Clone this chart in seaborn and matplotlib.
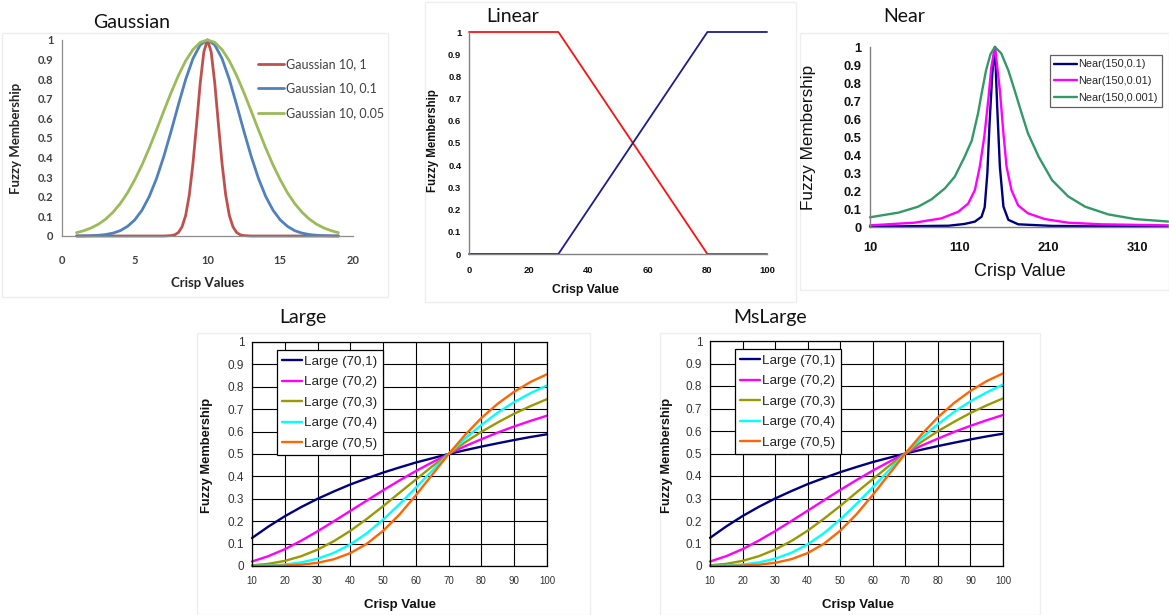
import numpy as np
import pandas as pd
import matplotlib
matplotlib.use("Agg")
import matplotlib.pyplot as plt
import seaborn as sns
from matplotlib.patches import Rectangle

# ---------------- data ----------------
Y_TICKS = [0, 0.1, 0.2, 0.3, 0.4, 0.5, 0.6, 0.7, 0.8, 0.9, 1.0]
Y_TICK_LABELS = ["0", "0.1", "0.2", "0.3", "0.4", "0.5", "0.6", "0.7", "0.8", "0.9", "1"]

# Gaussian panel
gauss_x = np.arange(1, 19.5, 0.5)
gauss_red_x = [1, 7, 7.5, 7.75, 8, 8.25, 8.5, 8.75, 9, 9.25, 9.5, 9.75, 10,
               10.25, 10.5, 10.75, 11, 11.25, 11.5, 11.75, 12, 12.25, 12.5, 13, 19]
gauss_red_y = [0, 0, 0.002, 0.006, 0.018, 0.047, 0.105, 0.21, 0.37, 0.57, 0.78, 0.94, 1.0,
               0.94, 0.78, 0.57, 0.37, 0.21, 0.105, 0.047, 0.018, 0.006, 0.002, 0, 0]
gauss_blue_y = [0.0003, 0.0007, 0.0017, 0.0036, 0.0074, 0.0146, 0.027, 0.049, 0.082, 0.132,
                0.202, 0.294, 0.407, 0.535, 0.670, 0.799, 0.905, 0.975, 1.0, 0.975, 0.905,
                0.799, 0.670, 0.535, 0.407, 0.294, 0.202, 0.132, 0.082, 0.049, 0.027, 0.0146,
                0.0074, 0.0036, 0.0017, 0.0007, 0.0003]
gauss_green_y = [0.017, 0.027, 0.041, 0.060, 0.086, 0.121, 0.165, 0.220, 0.287, 0.363, 0.449,
                 0.542, 0.638, 0.732, 0.819, 0.894, 0.951, 0.988, 1.0, 0.988, 0.951, 0.894,
                 0.819, 0.732, 0.638, 0.542, 0.449, 0.363, 0.287, 0.220, 0.165, 0.121, 0.086,
                 0.060, 0.041, 0.027, 0.017]
gauss_labels = ["Gaussian 10, 1", "Gaussian 10, 0.1", "Gaussian 10, 0.05"]
gauss_xticks = [0, 5, 10, 15, 20]

# Linear panel
lin_x = [0, 30, 80, 100]
lin_dec = [1, 1, 0, 0]
lin_inc = [0, 0, 1, 1]
lin_xticks = [0, 20, 40, 60, 80, 100]

# Near panel
near_g_x = [10, 42, 64, 79, 94, 105, 116, 124, 131, 135, 140, 145, 150, 157, 165, 172, 180,
            187, 199, 214, 232, 251, 277, 307, 345]
near_g_y = [0.054, 0.080, 0.113, 0.154, 0.215, 0.28, 0.39, 0.48, 0.63, 0.74, 0.87, 0.96, 1.0,
            0.965, 0.87, 0.76, 0.63, 0.52, 0.39, 0.26, 0.17, 0.113, 0.07, 0.044, 0.03]
near_p_x = [10, 60, 90, 109, 120, 127.5, 133, 138, 142.5, 146, 150, 155.5, 159.5, 163, 168.5,
            176, 187, 206, 232, 269, 345]
near_p_y = [0.009, 0.024, 0.048, 0.085, 0.13, 0.205, 0.335, 0.50, 0.705, 0.89, 1.0, 0.76, 0.52,
            0.335, 0.205, 0.12, 0.076, 0.044, 0.024, 0.015, 0.009]
near_n_x = [10, 98, 116, 127.5, 135, 138.5, 141.5, 144, 147, 149, 150, 152.5, 155.5, 159.5,
            165, 176, 214, 345]
near_n_y = [0.002, 0.007, 0.017, 0.03, 0.057, 0.11, 0.30, 0.58, 0.85, 0.965, 1.0, 0.67, 0.335,
            0.113, 0.04, 0.015, 0.006, 0.002]
near_labels = ["Near(150,0.1)", "Near(150,0.01)", "Near(150,0.001)"]
near_xticks = [10, 110, 210, 310]

# Large / MsLarge panels
large_x = [10, 15, 20, 25, 30, 35, 40, 45, 50, 55, 60, 65, 70, 75, 80, 85, 90, 95, 100]
large_1 = [0.125, 0.176, 0.222, 0.263, 0.300, 0.333, 0.364, 0.391, 0.417, 0.440, 0.462, 0.481,
           0.5, 0.517, 0.533, 0.548, 0.5625, 0.576, 0.588]
large_2 = [0.020, 0.044, 0.075, 0.113, 0.155, 0.200, 0.246, 0.292, 0.338, 0.382, 0.424, 0.463,
           0.5, 0.535, 0.566, 0.596, 0.623, 0.648, 0.671]
large_3 = [0.0029, 0.0097, 0.0228, 0.0436, 0.073, 0.111, 0.157, 0.210, 0.267, 0.327, 0.386,
           0.445, 0.5, 0.552, 0.599, 0.641, 0.680, 0.714, 0.745]
large_4 = [0.0004, 0.0021, 0.0066, 0.016, 0.0326, 0.0588, 0.0963, 0.146, 0.207, 0.276, 0.350,
           0.426, 0.5, 0.569, 0.630, 0.685, 0.732, 0.772, 0.806]
large_5 = [0.0001, 0.0005, 0.0019, 0.0058, 0.0143, 0.0303, 0.0574, 0.0989, 0.157, 0.230, 0.316,
           0.408, 0.5, 0.585, 0.661, 0.725, 0.778, 0.822, 0.856]
large_labels = ["Large (70,1)", "Large (70,2)", "Large (70,3)", "Large (70,4)", "Large (70,5)"]
large_xticks = [10, 20, 30, 40, 50, 60, 70, 80, 90, 100]

# ---------------- figure ----------------
sns.set_theme(style="white")
plt.rcParams["font.family"] = ["DejaVu Sans"]
W, H = 1169, 615
fig = plt.figure(figsize=(W / 100, H / 100), dpi=100)
fig.patch.set_facecolor("white")

TITLE_FONT = "Lato"
CAL = "Lato"
ARIAL = "Liberation Sans"


def fx(x):
    return x / W


def fy(y):
    return 1 - y / H


def add_ax(l, t, r, b):
    return fig.add_axes([fx(l), fy(b), (r - l) / W, (b - t) / H])


def draw(ax, series, palette, lw):
    frames = []
    for name, xs, ys in series:
        frames.append(pd.DataFrame({"x": xs, "y": ys, "s": name}))
    df = pd.concat(frames, ignore_index=True)
    sns.lineplot(data=df, x="x", y="y", hue="s", hue_order=[s[0] for s in series],
                 palette=palette, sort=False, estimator=None, ax=ax, legend=False,
                 linewidth=lw, clip_on=False)
    ax.set_xlabel("")
    ax.set_ylabel("")
    return ax.get_lines()


# faint panel frames (screenshot borders)
for (l, t, r, b) in [(2, 33, 388, 297), (425, 2, 796, 302), (800, 33, 1169, 290),
                     (197, 333, 590, 615), (660, 333, 1040, 615)]:
    fig.patches.append(Rectangle((fx(l), fy(b)), (r - l) / W, (b - t) / H,
                                 transform=fig.transFigure, fill=False,
                                 edgecolor="#eeeeee", lw=1))

# ---- Gaussian ----
ax = add_ax(62, 40, 353, 236)
lines = draw(ax, [(gauss_labels[0], gauss_red_x, gauss_red_y),
                  (gauss_labels[1], gauss_x, gauss_blue_y),
                  (gauss_labels[2], gauss_x, gauss_green_y)],
             ["#C0504D", "#4F81BD", "#9BBB59"], 2.0)
ax.set_xlim(0, 20)
ax.set_ylim(0, 1)
ax.set_xticks(gauss_xticks)
ax.set_yticks(Y_TICKS)
ax.set_yticklabels(Y_TICK_LABELS)
for s in ["top", "right"]:
    ax.spines[s].set_visible(False)
for s in ["left", "bottom"]:
    ax.spines[s].set_color("#8c8c8c")
    ax.spines[s].set_linewidth(0.9)
ax.tick_params(axis="both", which="both", length=3, width=0.8, color="#8c8c8c",
               labelcolor="#404040", labelsize=8, direction="out")
ax.tick_params(axis="x", pad=11)
ax.tick_params(axis="y", pad=3)
for t in ax.get_xticklabels() + ax.get_yticklabels():
    t.set_fontweight("bold")
    t.set_family(CAL)
ax.set_facecolor("white")
leg = ax.legend(lines, gauss_labels, loc="upper left", bbox_to_anchor=(fx(253), fy(53)),
                bbox_transform=fig.transFigure, frameon=False, fontsize=9,
                handlelength=2.1, handletextpad=0.15, labelspacing=1.0, borderaxespad=0)
for t in leg.get_texts():
    t.set_color("#404040")
    t.set_family(CAL)
fig.text(fx(132), fy(22), "Gaussian", ha="center", va="center", fontsize=14,
         family=TITLE_FONT, color="#111111")
fig.text(fx(16), fy(138), "Fuzzy Membership", rotation=90, ha="center", va="center",
         fontsize=9.5, fontweight="bold", family=CAL, color="#262626")
fig.text(fx(208), fy(283), "Crisp Values", ha="center", va="center",
         fontsize=9.5, fontweight="bold", family=CAL, color="#262626")

# ---- Linear ----
ax = add_ax(469, 32, 767, 254)
lines = draw(ax, [("dec", lin_x, lin_dec), ("inc", lin_x, lin_inc)],
             ["#FF1010", "#1C1C8C"], 1.3)
ax.set_xlim(0, 100)
ax.set_ylim(0, 1)
ax.set_xticks(lin_xticks)
ax.set_yticks(Y_TICKS)
ax.set_yticklabels(Y_TICK_LABELS)
for s in ["top", "right"]:
    ax.spines[s].set_visible(False)
for s in ["left", "bottom"]:
    ax.spines[s].set_color("#808080")
    ax.spines[s].set_linewidth(1.0)
ax.tick_params(axis="both", length=2.5, width=0.8, color="#808080", labelcolor="#111111",
               labelsize=6.8, direction="out")
ax.tick_params(axis="x", pad=6)
ax.tick_params(axis="y", pad=3)
for t in ax.get_xticklabels() + ax.get_yticklabels():
    t.set_fontweight("bold")
    t.set_family(ARIAL)
fig.text(fx(513), fy(17), "Linear", ha="center", va="center", fontsize=14,
         family=TITLE_FONT, color="#111111")
fig.text(fx(433), fy(141), "Fuzzy Membership", rotation=90, ha="center", va="center",
         fontsize=8.3, fontweight="bold", family=ARIAL, color="#111111")
fig.text(fx(585), fy(290), "Crisp Value", ha="center", va="center",
         fontsize=8.8, fontweight="bold", family=ARIAL, color="#111111")

# ---- Near ----
ax = add_ax(870, 47, 1169, 227)
lines = draw(ax, [(near_labels[0], near_n_x, near_n_y),
                  (near_labels[1], near_p_x, near_p_y),
                  (near_labels[2], near_g_x, near_g_y)],
             ["#000080", "#FF00FF", "#339966"], 1.7)
ax.set_xlim(10, 345)
ax.set_ylim(0, 1)
ax.set_xticks(near_xticks)
ax.set_yticks(Y_TICKS)
ax.set_yticklabels(Y_TICK_LABELS)
for s in ["top", "right"]:
    ax.spines[s].set_visible(False)
for s in ["left", "bottom"]:
    ax.spines[s].set_color("#808080")
    ax.spines[s].set_linewidth(1.0)
ax.tick_params(axis="both", length=3, width=0.8, color="#808080", labelcolor="#111111",
               labelsize=9.3, direction="out")
ax.tick_params(axis="x", pad=8)
ax.tick_params(axis="y", pad=3)
for t in ax.get_xticklabels() + ax.get_yticklabels():
    t.set_fontweight("bold")
    t.set_family(ARIAL)
leg = ax.legend(lines, near_labels, loc="upper left", bbox_to_anchor=(fx(1050), fy(55)),
                bbox_transform=fig.transFigure, frameon=True, fancybox=False,
                edgecolor="#606060", framealpha=1, fontsize=7.8, handlelength=2.1,
                handletextpad=0.1, labelspacing=0.62, borderpad=0.4, borderaxespad=0)
leg.get_frame().set_linewidth(0.9)
for t in leg.get_texts():
    t.set_family(ARIAL)
fig.text(fx(904), fy(17), "Near", ha="center", va="center", fontsize=14,
         family=TITLE_FONT, color="#111111")
fig.text(fx(808), fy(137), "Fuzzy Membership", rotation=90, ha="center", va="center",
         fontsize=12.3, family=ARIAL, color="#111111")
fig.text(fx(1020), fy(272), "Crisp Value", ha="center", va="center",
         fontsize=13, family=ARIAL, color="#111111")

# ---- Large & MsLarge ----
large_palette = ["#000080", "#FF00FF", "#999900", "#00FFFF", "#FF6600"]
for (l, t, r, b), title, tx, ylx, xlx in [((252, 342, 547, 566), "Large", 303, 207, 400),
                                         ((710, 341, 1003, 566), "MsLarge", 770, 667, 858)]:
    ax = add_ax(l, t, r, b)
    lines = draw(ax, [(large_labels[0], large_x, large_1),
                      (large_labels[1], large_x, large_2),
                      (large_labels[2], large_x, large_3),
                      (large_labels[3], large_x, large_4),
                      (large_labels[4], large_x, large_5)],
                 large_palette, 1.7)
    ax.set_xlim(10, 100)
    ax.set_ylim(0, 1)
    ax.set_xticks(large_xticks)
    ax.set_yticks(Y_TICKS)
    ax.set_yticklabels(Y_TICK_LABELS)
    ax.grid(True, color="black", linewidth=0.8)
    ax.set_axisbelow(True)
    for s in ax.spines.values():
        s.set_visible(True)
        s.set_color("black")
        s.set_linewidth(0.9)
    ax.tick_params(axis="both", length=2.5, width=0.8, color="black", labelcolor="#333333",
                   direction="out")
    ax.tick_params(axis="y", labelsize=8.5, pad=3)
    ax.tick_params(axis="x", labelsize=7, pad=5)
    for tl in ax.get_xticklabels() + ax.get_yticklabels():
        tl.set_family(ARIAL)
    leg = ax.legend(lines, large_labels, loc="upper left",
                    bbox_to_anchor=(fx(l + 25), fy(t + 8)), bbox_transform=fig.transFigure,
                    frameon=True, fancybox=False, edgecolor="black", framealpha=1,
                    fontsize=9.6, handlelength=1.5, handletextpad=0.15, labelspacing=0.62,
                    borderpad=0.4, borderaxespad=0)
    leg.get_frame().set_linewidth(0.9)
    for tt in leg.get_texts():
        tt.set_family(ARIAL)
        tt.set_color("#222222")
    fig.text(fx(tx), fy(318), title, ha="center", va="center", fontsize=14,
             family=TITLE_FONT, color="#111111")
    fig.text(fx(ylx), fy(455), "Fuzzy Membership", rotation=90, ha="center", va="center",
             fontsize=9.3, fontweight="bold", family=ARIAL, color="#111111")
    fig.text(fx(xlx), fy(605), "Crisp Value", ha="center", va="center",
             fontsize=9.5, fontweight="bold", family=ARIAL, color="#111111")

fig.savefig("out.png", dpi=100, facecolor="white")
